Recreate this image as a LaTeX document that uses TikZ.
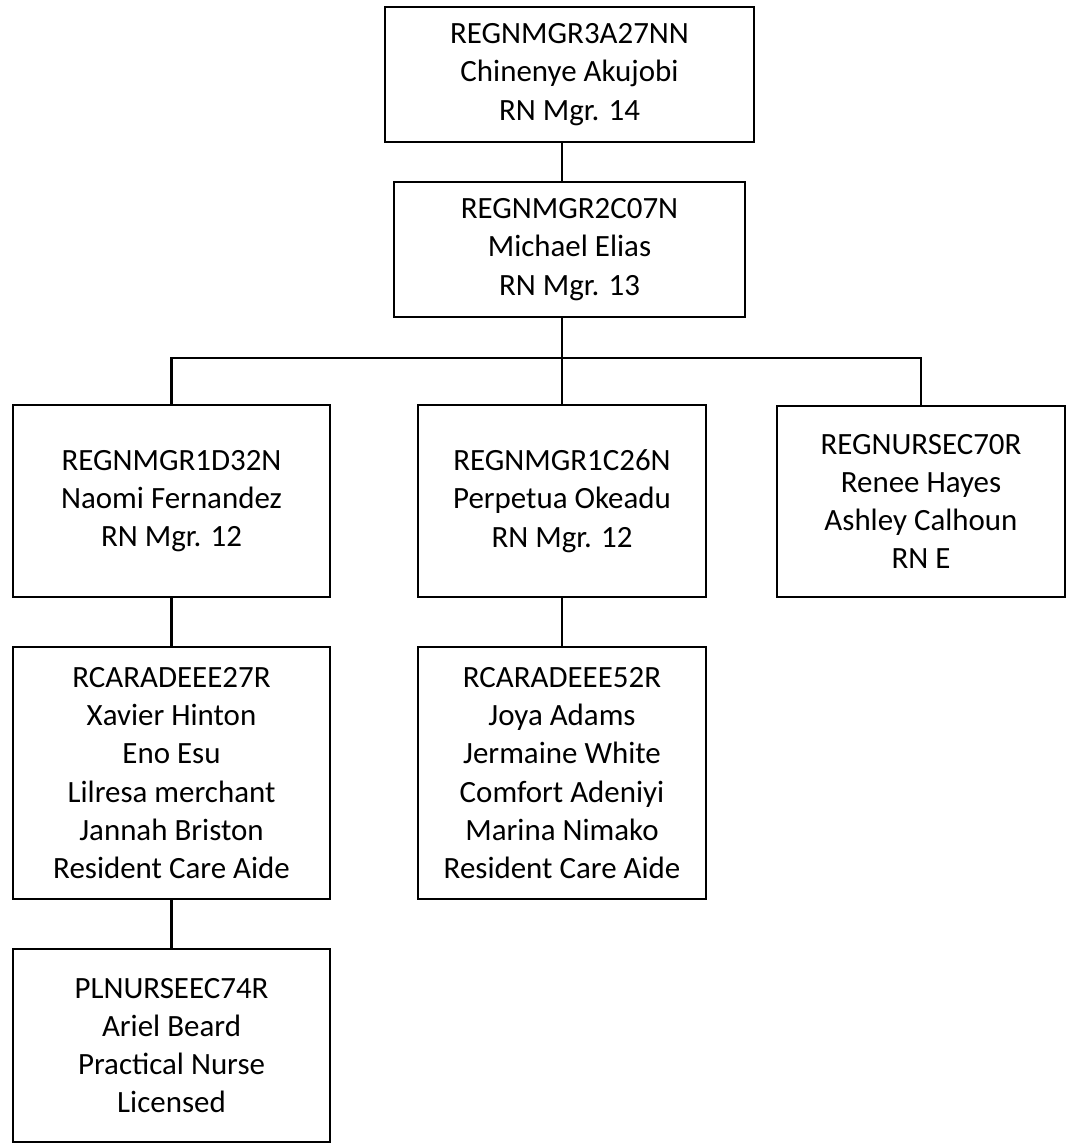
\documentclass[tikz,border=0pt]{standalone}
\usepackage{fontspec}
\setmainfont{Carlito}
\usepackage{tikz}
\usetikzlibrary{positioning,calc}
\tikzset{
  post/.style={draw=black,line width=1.5pt,align=center,inner sep=0pt,
               font=\fontsize{22}{27.2}\selectfont},
  link/.style={line width=1.5pt,color=black},
}

\begin{document}
\begin{tikzpicture}[x=0.025cm,y=-0.025cm]
    \useasboundingbox (0,0) rectangle (1067,1143);
    % top of the chart
    \node[post,minimum width=369*0.025cm,minimum height=135*0.025cm] (top) at (569.5,74.5)
      {REGNMGR3A27NN\\Chinenye Akujobi\\RN Mgr. 14};
    \node[post,minimum width=351*0.025cm,minimum height=135*0.025cm] (mgr) at (569.5,249.5)
      {REGNMGR2C07N\\Michael Elias\\RN Mgr. 13};
    % third row
    \node[post,minimum width=317*0.025cm,minimum height=192*0.025cm] (left) at (171.5,501)
      {REGNMGR1D32N\\Naomi Fernandez\\RN Mgr. 12};
    \node[post,minimum width=288*0.025cm,minimum height=192*0.025cm] (mid) at (562,501)
      {REGNMGR1C26N\\Perpetua Okeadu\\RN Mgr. 12};
    \node[post,minimum width=288*0.025cm,minimum height=191*0.025cm] (right) at (921,501.5)
      {REGNURSEC70R\\Renee Hayes\\Ashley Calhoun\\RN E};
    % aides
    \node[post,minimum width=317*0.025cm,minimum height=252*0.025cm] (aideL) at (171.5,773)
      {RCARADEEE27R\\Xavier Hinton\\Eno Esu\\Lilresa merchant\\Jannah Briston\\Resident Care Aide};
    \node[post,minimum width=288*0.025cm,minimum height=252*0.025cm] (aideM) at (562,773)
      {RCARADEEE52R\\Joya Adams\\Jermaine White\\Comfort Adeniyi\\Marina Nimako\\Resident Care Aide};
    \node[post,minimum width=317*0.025cm,minimum height=193*0.025cm] (pn) at (171.5,1045.5)
      {PLNURSEEC74R\\Ariel Beard\\Practical Nurse\\Licensed};

    \coordinate (bus) at (562,358);
    \draw[link] (top.south -| bus) -- (mgr.north -| bus);
    \draw[link] (mgr.south -| bus) -- (bus) -- (mid.north);
    \draw[link] (left.north) |- (bus) -| (right.north);
    \draw[link] (left) -- (aideL);
    \draw[link] (mid) -- (aideM);
    \draw[link] (aideL) -- (pn);
\end{tikzpicture}
\end{document}
